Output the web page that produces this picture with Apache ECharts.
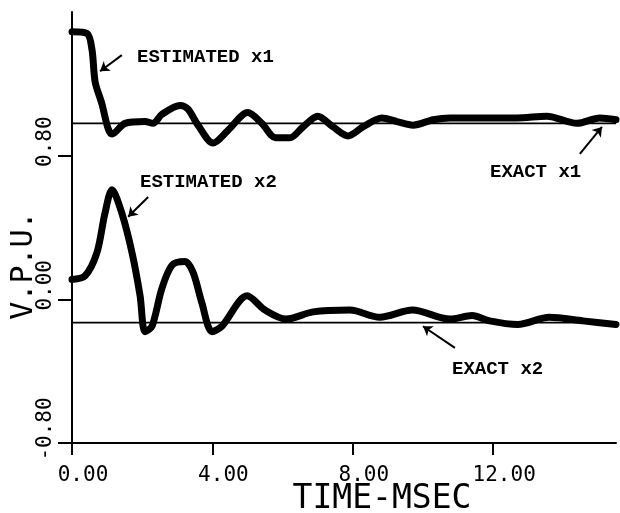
<!DOCTYPE html>
<html>
<head>
<meta charset="utf-8">
<script src="https://cdn.jsdelivr.net/npm/echarts@6/dist/echarts.min.js"></script>
<style>
  html, body { margin: 0; padding: 0; background: #fff; }
  #main { width: 620px; height: 513px; }
</style>
</head>
<body>
<div id="main"></div>
<script>
// time axis (msec) and per-unit voltages
var tX1 = [0, 0.43, 0.57, 0.66, 0.85, 1.03, 1.14, 1.51, 2.08, 2.31, 2.56, 3.08, 3.3, 3.59, 4.02, 4.44, 5.01, 5.41, 5.8, 6.21, 6.58, 7.0, 7.44, 7.86, 8.29, 8.83, 9.26, 9.72, 10.29, 10.77, 11.7, 12.68, 13.53, 14.39, 15.04, 15.5];
var estX1 = [1.49, 1.48, 1.39, 1.21, 1.09, 0.95, 0.92, 0.98, 0.99, 0.98, 1.03, 1.08, 1.06, 0.97, 0.87, 0.94, 1.04, 0.98, 0.9, 0.9, 0.96, 1.02, 0.96, 0.91, 0.96, 1.01, 0.99, 0.97, 1.0, 1.01, 1.01, 1.01, 1.02, 0.98, 1.01, 1.0];

var tX2 = [0, 0.37, 0.71, 0.94, 1.14, 1.42, 1.71, 1.94, 2.08, 2.28, 2.56, 2.85, 3.22, 3.45, 3.7, 3.99, 4.27, 4.99, 5.5, 6.1, 6.87, 7.92, 8.77, 9.7, 10.77, 11.4, 11.9, 12.7, 13.6, 14.56, 15.5];
var estX2 = [0.11, 0.13, 0.26, 0.48, 0.61, 0.48, 0.26, 0.02, -0.18, -0.15, 0.06, 0.19, 0.21, 0.15, -0.02, -0.18, -0.15, 0.02, -0.06, -0.11, -0.07, -0.06, -0.1, -0.06, -0.11, -0.09, -0.12, -0.14, -0.1, -0.12, -0.14];

var exactX1 = 0.98;
var exactX2 = -0.13;
var tRange = [0, 15.5];

var xTicks = [0, 4, 8, 12];
var yTicks = [-0.8, 0, 0.8];

function pairs(t, v) {
    var out = [];
    for (var i = 0; i < t.length; i++) out.push([t[i], v[i]]);
    return out;
}

var ink = '#000';
var plotFont = 'DejaVu Sans Mono';
var noteFont = 'Liberation Mono';

var dom = document.getElementById('main');
var myChart = echarts.init(dom, null, { renderer: 'canvas' });

function arrow(from, to) {
    return [{ coord: from, symbol: 'none' }, { coord: to, symbol: 'arrow' }];
}

var option = {
    backgroundColor: '#fff',
    animation: false,
    grid: { left: 72, right: 4, top: 12, bottom: 70, outerBoundsMode: 'none', containLabel: false },
    xAxis: {
        type: 'value',
        min: tRange[0],
        max: tRange[1],
        interval: 4,
        name: 'TIME-MSEC',
        nameLocation: 'middle',
        nameGap: 40,
        nameMoveOverlap: false,
        nameTextStyle: { fontFamily: plotFont, fontSize: 33, color: ink, padding: [0, 0, 0, 76] },
        axisLine: { onZero: false, lineStyle: { color: ink, width: 2 } },
        axisTick: { show: true, length: 12, inside: false, customValues: xTicks, lineStyle: { color: ink, width: 2 } },
        axisLabel: {
            customValues: xTicks,
            margin: 22,
            fontFamily: plotFont,
            fontSize: 21,
            color: ink,
            padding: [0, 0, 0, 22],
            formatter: function (v) { return v.toFixed(2); }
        },
        splitLine: { show: false }
    },
    yAxis: {
        type: 'value',
        min: -0.8,
        max: 1.6,
        interval: 0.8,
        name: 'V.P.U.',
        nameLocation: 'middle',
        nameRotate: 90,
        nameGap: 33,
        nameMoveOverlap: false,
        nameTextStyle: { fontFamily: plotFont, fontSize: 30, color: ink, padding: [0, 76, 0, 0] },
        axisLine: { show: true, onZero: false, lineStyle: { color: ink, width: 2 } },
        axisTick: { show: true, length: 14, inside: false, customValues: yTicks, lineStyle: { color: ink, width: 2 } },
        axisLabel: {
            customValues: yTicks,
            rotate: 90,
            margin: 16,
            fontFamily: plotFont,
            fontSize: 21,
            color: ink,
            padding: [0, 0, 0, 28],
            formatter: function (v) { return v.toFixed(2); }
        },
        splitLine: { show: false }
    },
    series: [
        {
            name: 'EXACT x1',
            type: 'line',
            data: [[tRange[0], exactX1], [tRange[1], exactX1]],
            symbol: 'none',
            lineStyle: { color: ink, width: 1.8 },
            z: 2
        },
        {
            name: 'EXACT x2',
            type: 'line',
            data: [[tRange[0], exactX2], [tRange[1], exactX2]],
            symbol: 'none',
            lineStyle: { color: ink, width: 1.8 },
            z: 2
        },
        {
            name: 'ESTIMATED x1',
            type: 'line',
            data: pairs(tX1, estX1),
            smooth: 0.3,
            symbol: 'none',
            lineStyle: { color: ink, width: 7, cap: 'round', join: 'round' },
            z: 3,
            markLine: {
                silent: true,
                symbolSize: 9,
                label: { show: false },
                lineStyle: { color: ink, width: 2, type: 'solid' },
                data: [
                    arrow([1.42, 1.36], [0.8, 1.27]),
                    arrow([14.47, 0.81], [15.1, 0.96])
                ]
            }
        },
        {
            name: 'ESTIMATED x2',
            type: 'line',
            data: pairs(tX2, estX2),
            smooth: 0.3,
            symbol: 'none',
            lineStyle: { color: ink, width: 7, cap: 'round', join: 'round' },
            z: 3,
            markLine: {
                silent: true,
                symbolSize: 9,
                label: { show: false },
                lineStyle: { color: ink, width: 2, type: 'solid' },
                data: [
                    arrow([2.17, 0.57], [1.6, 0.46]),
                    arrow([10.91, -0.27], [10.0, -0.15])
                ]
            }
        }
    ],
    graphic: [
        { type: 'text', left: 137, top: 48, style: { text: 'ESTIMATED x1', font: 'bold 19px "' + noteFont + '"', fill: ink } },
        { type: 'text', left: 140, top: 173, style: { text: 'ESTIMATED x2', font: 'bold 19px "' + noteFont + '"', fill: ink } },
        { type: 'text', left: 490, top: 163, style: { text: 'EXACT x1', font: 'bold 19px "' + noteFont + '"', fill: ink } },
        { type: 'text', left: 452, top: 360, style: { text: 'EXACT x2', font: 'bold 19px "' + noteFont + '"', fill: ink } }
    ]
};

if (option && typeof option === 'object') {
    myChart.setOption(option, true);
}
</script>
</body>
</html>
